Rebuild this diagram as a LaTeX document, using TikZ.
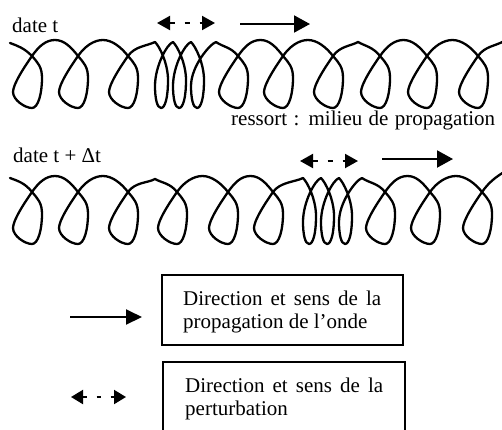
\documentclass[tikz,border=0pt]{standalone}
\usepackage{fontspec}
\setmainfont{Liberation Serif}
\usetikzlibrary{arrows.meta}
\tikzset{
  spring/.style={line width=2.3pt, line cap=round, line join=round},
  pics/nloop/.style={code={
    \draw[spring] (0,0) .. controls (6,7) and (10,11) .. (10,22)
      .. controls (10,38) and (6,52) .. (0,52)
      .. controls (-7,52) and (-19,44) .. (-19,36)
      .. controls (-19,28) and (-7,10) .. (0,0);}},
  pics/cloop/.style={code={
    \draw[spring] (0,0) .. controls (5,5) and (13,22) .. (13,38)
      .. controls (13,56) and (10,66) .. (6,66)
      .. controls (2,66) and (0,56) .. (0,44)
      .. controls (0,24) and (#1-6,2) .. (#1,0);}},
  parrow/.style={line width=2pt, -{Triangle[length=16pt,width=17pt]}},
  darrow/.style={line width=2pt, dash pattern=on 5pt off 10pt,
    {Triangle[length=13pt,width=14pt]}-{Triangle[length=13pt,width=14pt]}},
  lparrow/.style={line width=2pt, -{Triangle[length=16pt,width=15pt]}},
  ldarrow/.style={line width=2pt, dash pattern=on 4pt off 10pt,
    {Triangle[length=12pt,width=14pt]}-{Triangle[length=12pt,width=14pt]}},
  txt/.style={inner sep=0pt, font=\fontsize{21}{25}\selectfont},
  box/.style={draw, line width=2pt, inner sep=0pt, outer sep=0pt, anchor=north west},
}
\begin{document}
\begin{tikzpicture}[x=1pt, y=-1pt]
\useasboundingbox (0,0) rectangle (502,429);
\clip (0,0) rectangle (502,429);
\fill[white] (0,0) rectangle (502,429);

% ---------- top spring (date t) ----------
\draw[spring] (10,43) .. controls +(8,3) and +(-8,-8) .. (32,56);
\foreach \c in {32,78,128,238,283,333,380,427,478}
  \pic at (\c,56) {nloop};
\foreach \a/\b in {32/78,78/128,238/283,283/333,380/427,427/478}{
  \pgfmathsetmacro\m{(\a+\b)/2}
  \draw[spring] (\a,56) .. controls +(7,-10) and +(-9,0) .. (\m,40)
    .. controls +(9,0) and +(-7,-9) .. (\b,56);
}
\draw[spring] (128,56) .. controls +(7,-10) and +(-8,4) .. (155,42);
\pic at (155,42) {cloop=18};
\pic at (173,42) {cloop=18};
\pic at (191,42) {cloop=25};
\draw[spring] (216,42) .. controls +(7,5) and +(-7,-9) .. (238,56);
\draw[spring] (333,56) .. controls +(7,-10) and +(-7,4) .. (358,42)
  .. controls +(7,4) and +(-7,-9) .. (380,56);
\draw[spring] (478,56) .. controls +(7,-10) and +(-8,5) .. (504,41);

% ---------- bottom spring (date t + dt) ----------
\draw[spring] (10,178) .. controls +(8,3) and +(-7,-9) .. (32,192);
\foreach \c in {32,78,128,177,228,273,385,430,482}
  \pic at (\c,192) {nloop};
\foreach \a/\b in {32/78,78/128,177/228,228/273,385/430,430/482}{
  \pgfmathsetmacro\m{(\a+\b)/2}
  \draw[spring] (\a,192) .. controls +(7,-10) and +(-9,0) .. (\m,176)
    .. controls +(9,0) and +(-7,-9) .. (\b,192);
}
\draw[spring] (128,192) .. controls +(7,-10) and +(-7,4) .. (155,179)
  .. controls +(7,4) and +(-7,-9) .. (177,192);
\draw[spring] (273,192) .. controls +(7,-10) and +(-8,4) .. (303,178);
\pic at (303,178) {cloop=18};
\pic at (321,178) {cloop=18};
\pic at (339,178) {cloop=23};
\draw[spring] (362,178) .. controls +(7,5) and +(-7,-9) .. (385,192);
\draw[spring] (482,192) .. controls +(7,-10) and +(-8,5) .. (504,172);

% ---------- arrows on springs ----------
\coordinate (da1) at (157,23); \coordinate (db1) at (215,23);
\draw[darrow] (da1) -- (db1);
\coordinate (pa1) at (240,24); \coordinate (pb1) at (310,24);
\draw[parrow] (pa1) -- (pb1);
\coordinate (da2) at (300,161); \coordinate (db2) at (358,161);
\draw[darrow] (da2) -- (db2);
\coordinate (pa2) at (382,159); \coordinate (pb2) at (453,159);
\draw[parrow] (pa2) -- (pb2);

% ---------- labels ----------
\node[txt, anchor=base west] (lt1) at (12,32) {date t};
\node[txt, anchor=base west] (lt2) at (13,162) {date t + Δt};
\node[txt, anchor=base west] (lres) at (231,125) {\makebox[264pt][s]{ressort : milieu de propagation}};

% ---------- legend ----------
\node[box, minimum width=241pt, minimum height=70pt] (box1) at (162,275) {};
\node[txt, anchor=base west] (b1l1) at (183,305) {\makebox[198pt][s]{Direction et sens de la}};
\node[txt, anchor=base west] (b1l2) at (183,328) {propagation de l’onde};
\coordinate (lpa) at (70,317); \coordinate (lpb) at (142,317);
\draw[lparrow] (lpa) -- (lpb);

\node[box, minimum width=242pt, minimum height=80pt] (box2) at (163,362) {};
\node[txt, anchor=base west] (b2l1) at (185,392) {\makebox[198pt][s]{Direction et sens de la}};
\node[txt, anchor=base west] (b2l2) at (185,415) {perturbation};
\coordinate (lda) at (71,397); \coordinate (ldb) at (126,397);
\draw[ldarrow] (lda) -- (ldb);
\end{tikzpicture}
\end{document}
